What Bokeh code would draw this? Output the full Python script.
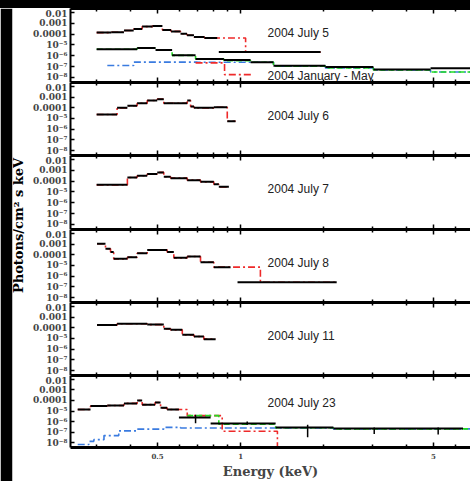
import math
from bokeh.plotting import figure
from bokeh.layouts import row, column
from bokeh.models import Range1d, LogAxis, FixedTicker, CustomJSTickFormatter, Spacer
from bokeh.core.properties import value
from bokeh.embed import file_html
from bokeh.resources import INLINE

# ---------------- data (energy bin edges in keV, flux in photons/cm^2 s keV) -------------
x_ticks = [0.5, 1, 5]
x_tick_labels = ["0.5", "1", "5"]
x_minor_ticks = [0.3, 0.4, 0.6, 0.7, 0.8, 0.9, 2, 3, 4, 6]
y_ticks = [1e-2, 1e-3, 1e-4, 1e-5, 1e-6, 1e-7, 1e-8]
y_tick_labels = ["0.01", "0.001", "0.0001", "10⁻⁵", "10⁻⁶", "10⁻⁷", "10⁻⁸"]

# Panel 1: 2004 July 5 and 2004 January - May
jul5_edges = [0.301, 0.340, 0.378, 0.410, 0.440, 0.480, 0.521, 0.560, 0.606, 0.640, 0.678, 0.740, 0.823]
jul5_flux = [1.4e-4, 1.5e-4, 2.2e-4, 3.0e-4, 5.0e-4, 5.8e-4, 2.4e-4, 1.8e-4, 1.1e-4, 8.0e-5, 5.5e-5, 4.5e-5]
jul5_hi_edges = [0.834, 1.95]
jul5_hi_flux = [2.2e-6]
jul5_model_edges = [0.301, 0.340, 0.378, 0.410, 0.440, 0.480, 0.521, 0.560, 0.606, 0.640, 0.678, 0.740, 1.043, 1.95]
jul5_model_flux = [1.4e-4, 1.5e-4, 2.2e-4, 3.0e-4, 5.0e-4, 5.8e-4, 2.4e-4, 1.8e-4, 1.1e-4, 8.0e-5, 5.5e-5, 4.5e-5, 2.2e-6]

janmay_edges = [0.301, 0.422, 0.492, 0.565, 0.687, 0.870, 1.087, 1.316, 2.03, 3.03, 4.88, 6.9]
janmay_flux = [4.0e-6, 5.2e-6, 3.4e-6, 1.1e-6, 5.2e-7, 4.0e-7, 2.5e-7, 1.2e-7, 9.0e-8, 5.5e-8, 7.0e-8]
janmay_green_flux = [4.0e-6, 5.2e-6, 3.4e-6, 1.1e-6, 5.2e-7, 3.6e-7, 2.5e-7, 1.1e-7, 7.5e-8, 4.8e-8, 3.2e-8]
janmay_red_edges = [0.687, 0.875, 1.09]
janmay_red_flux = [2.2e-7, 1.8e-8]
janmay_blue_edges = [0.329, 0.410, 0.697, 1.316, 2.03, 3.03, 4.88, 6.9]
janmay_blue_flux = [1.25e-7, 2.6e-7, 2.5e-7, 1.1e-7, 7.5e-8, 4.8e-8, 3.2e-8]

# Panel 2: 2004 July 6
jul6_edges = [0.301, 0.357, 0.389, 0.422, 0.459, 0.499, 0.527, 0.573, 0.641, 0.659, 0.678, 0.800, 0.895, 0.959]
jul6_flux = [2.4e-5, 1.0e-4, 1.55e-4, 2.7e-4, 4.9e-4, 6.5e-4, 2.7e-4, 2.7e-4, 4.9e-4, 1.35e-4, 1.0e-4, 1.15e-4, 5.6e-6]

# Panel 3: 2004 July 7
jul7_edges = [0.301, 0.389, 0.422, 0.459, 0.499, 0.527, 0.558, 0.641, 0.716, 0.800, 0.834, 0.907]
jul7_flux = [4.6e-5, 2.2e-4, 3.2e-4, 4.6e-4, 6.5e-4, 2.6e-4, 1.9e-4, 1.25e-4, 8.7e-5, 5.2e-5, 3.0e-5]

# Panel 4: 2004 July 8
jul8_edges = [0.302, 0.324, 0.338, 0.347, 0.389, 0.422, 0.459, 0.542, 0.573, 0.641, 0.716, 0.800, 0.920]
jul8_flux = [1.08e-3, 3.7e-4, 1.8e-4, 4.2e-5, 6.0e-5, 1.4e-4, 2.9e-4, 1.8e-4, 5.2e-5, 7.0e-5, 2.0e-5, 7.0e-6]
jul8_hi_edges = [0.975, 2.23]
jul8_hi_flux = [2.7e-7]
jul8_model_edges = [0.302, 0.324, 0.338, 0.347, 0.389, 0.422, 0.459, 0.542, 0.573, 0.641, 0.716, 0.800, 1.18, 2.23]
jul8_model_flux = [1.08e-3, 3.7e-4, 1.8e-4, 4.2e-5, 6.0e-5, 1.4e-4, 2.9e-4, 1.8e-4, 5.2e-5, 7.0e-5, 2.0e-5, 7.0e-6, 2.7e-7]

# Panel 5: 2004 July 11
jul11_edges = [0.302, 0.357, 0.459, 0.527, 0.558, 0.615, 0.678, 0.736, 0.812]
jul11_flux = [1.8e-4, 2.4e-4, 2.0e-4, 8.0e-5, 6.5e-5, 2.2e-5, 1.55e-5, 8.7e-6]

# Panel 6: 2004 July 23
jul23_edges = [0.257, 0.286, 0.329, 0.378, 0.422, 0.440, 0.490, 0.513, 0.542, 0.598, 0.779, 1.34, 2.17, 6.4]
jul23_flux = [1.4e-5, 3.0e-5, 3.3e-5, 5.3e-5, 1.0e-4, 4.0e-5, 6.5e-5, 2.0e-5, 1.4e-5, 2.4e-6, 6.5e-7, 2.7e-7, 2.2e-7]
jul23_err_x = [0.687, 1.057, 1.75, 3.05, 5.2]
jul23_err_lo = [7.0e-7, 4.9e-7, 3.2e-8, 6.5e-8, 5.7e-8]
jul23_err_hi = [4.3e-6, 1.0e-6, 4.9e-7, 2.7e-7, 2.7e-7]
jul23_model_edges = [0.257, 0.286, 0.329, 0.378, 0.422, 0.440, 0.490, 0.513, 0.542, 0.641, 0.858, 1.36, 1.45]
jul23_model_flux = [1.4e-5, 3.0e-5, 3.3e-5, 5.3e-5, 1.0e-4, 4.0e-5, 6.5e-5, 2.0e-5, 1.4e-5, 3.6e-6, 1.2e-7, 1e-10]
jul23_green_edges = [0.641, 0.834, 1.34, 2.17, 6.9]
jul23_green_flux = [3.6e-6, 5.5e-7, 2.6e-7, 2.0e-7]
jul23_blue_edges = [0.257, 0.282, 0.294, 0.320, 0.362, 0.422, 0.527, 0.606, 1.34, 2.17, 6.9]
jul23_blue_flux = [6.5e-9, 1.3e-8, 1.9e-8, 4.6e-8, 1.3e-7, 1.9e-7, 2.8e-7, 2.4e-7, 2.4e-7, 2.0e-7]

panel_titles = ["2004 July 5", "2004 July 6", "2004 July 7", "2004 July 8", "2004 July 11", "2004 July 23"]
second_title = "2004 January - May"
x_title = "Energy (keV)"
y_title = "Photons/cm² s keV"

# ---------------- styling -------------
RED = "#ee2a2a"
GREEN = "#22dd22"
BLUE = "#3a7be0"
SERIF = "DejaVu Serif"
X_RANGE = (0.242, 6.81)
Y_RANGE = (3.4e-9, 0.0237)
LABEL_X = 1.253
BLACK_BG = {"background-color": "black"}

x_fmt = CustomJSTickFormatter(args=dict(ticks_=x_ticks, labels=x_tick_labels), code="""
for (let i = 0; i < ticks_.length; i++) { if (Math.abs(ticks_[i] - tick) < 1e-9) return labels[i]; }
return "";
""")
blank_fmt = CustomJSTickFormatter(code="return '';")
y_fmt = CustomJSTickFormatter(args=dict(labels=y_tick_labels), code="""
const e = Math.round(-Math.log10(tick)) - 2;
return (e >= 0 && e < labels.length) ? labels[e] : "";
""")


def style_x_axis(ax, show_labels):
    ax.ticker = FixedTicker(ticks=x_ticks, minor_ticks=x_minor_ticks)
    ax.axis_line_color = "black"
    ax.axis_line_width = 3
    ax.major_tick_in = 5
    ax.major_tick_out = 0
    ax.minor_tick_in = 3
    ax.minor_tick_out = 0
    ax.major_tick_line_width = 1.5
    ax.minor_tick_line_width = 1.5
    if show_labels:
        ax.formatter = x_fmt
        ax.major_label_text_font = SERIF
        ax.major_label_text_font_style = "bold"
        ax.major_label_text_font_size = "7px"
        ax.major_label_standoff = 5
        ax.axis_label = x_title
        ax.axis_label_text_font = SERIF
        ax.axis_label_text_font_style = "bold"
        ax.axis_label_text_font_size = "13px"
        ax.axis_label_standoff = 2
    else:
        ax.formatter = blank_fmt
        ax.major_label_text_font_size = "1px"
        ax.major_label_standoff = 0


def make_panel(h, bottom_border=0, show_x_labels=False):
    p = figure(width=440, height=h, x_axis_type="log", y_axis_type="log",
               x_range=Range1d(*X_RANGE), y_range=Range1d(*Y_RANGE),
               output_backend="svg", toolbar_location=None,
               min_border_left=40, min_border_right=0, min_border_top=0,
               min_border_bottom=bottom_border,
               background_fill_color="white", border_fill_color="white",
               outline_line_color=None)
    p.grid.visible = False
    style_x_axis(p.xaxis[0], show_x_labels)
    top = LogAxis()
    style_x_axis(top, False)
    p.add_layout(top, "above")
    ya = p.yaxis[0]
    ya.ticker = FixedTicker(ticks=y_ticks, minor_ticks=[])
    ya.formatter = y_fmt
    ya.axis_line_width = 2
    ya.major_tick_in = 4
    ya.major_tick_out = 0
    ya.major_tick_line_width = 1.5
    ya.minor_tick_line_color = None
    ya.major_label_text_font = SERIF
    ya.major_label_text_font_style = "bold"
    ya.major_label_text_font_size = "9px"
    ya.major_label_standoff = 3
    return p


def data(p, edges, flux, color="black"):
    p.segment(x0=edges[:-1], x1=edges[1:], y0=flux, y1=flux, line_color=color, line_width=2)


def model(p, edges, flux, color=RED, dash="7 3 2 3"):
    p.step(x=edges, y=list(flux) + [flux[-1]], mode="after", line_color=color,
           line_width=1.6, line_dash=dash)


def title(p, y, text):
    p.text(x=[LABEL_X], y=[y], text=[text], text_font=value("Liberation Sans"),
           text_font_size="12px", text_baseline="middle", text_align="left", text_color="#222222")


heights = [74, 73, 74, 73, 73]
panels = []

# Panel 1
p1 = make_panel(heights[0])
model(p1, jul5_model_edges, jul5_model_flux)
data(p1, jul5_edges, jul5_flux)
data(p1, jul5_hi_edges, jul5_hi_flux)
model(p1, janmay_blue_edges, janmay_blue_flux, color=BLUE)
model(p1, janmay_red_edges, janmay_red_flux)
model(p1, janmay_edges, janmay_green_flux, color=GREEN, dash="6 3")
data(p1, janmay_edges, janmay_flux)
title(p1, 1.33e-4, panel_titles[0])
title(p1, 1.35e-8, second_title)
panels.append(p1)

# Panel 2
p2 = make_panel(heights[1])
model(p2, jul6_edges, jul6_flux)
data(p2, jul6_edges, jul6_flux)
title(p2, 1.9e-5, panel_titles[1])
panels.append(p2)

# Panel 3
p3 = make_panel(heights[2])
model(p3, jul7_edges, jul7_flux)
data(p3, jul7_edges, jul7_flux)
title(p3, 1.9e-5, panel_titles[2])
panels.append(p3)

# Panel 4
p4 = make_panel(heights[3])
model(p4, jul8_model_edges, jul8_model_flux)
data(p4, jul8_edges, jul8_flux)
data(p4, jul8_hi_edges, jul8_hi_flux)
title(p4, 1.9e-5, panel_titles[3])
panels.append(p4)

# Panel 5
p5 = make_panel(heights[4])
model(p5, jul11_edges, jul11_flux)
data(p5, jul11_edges, jul11_flux)
title(p5, 1.9e-5, panel_titles[4])
panels.append(p5)

# Panel 6
p6 = make_panel(106, bottom_border=33, show_x_labels=True)
model(p6, jul23_blue_edges, jul23_blue_flux, color=BLUE)
model(p6, jul23_model_edges, jul23_model_flux)
model(p6, jul23_green_edges, jul23_green_flux, color=GREEN, dash="6 3")
data(p6, jul23_edges, jul23_flux)
p6.segment(x0=jul23_err_x, x1=jul23_err_x, y0=jul23_err_lo, y1=jul23_err_hi,
           line_color="black", line_width=1.5)
title(p6, 5.6e-5, panel_titles[5])
panels.append(p6)

# y-axis label strip (with the black left margin as its border)
lab = figure(width=30, height=473, x_range=Range1d(0, 18), y_range=Range1d(0, 473),
             output_backend="svg", toolbar_location=None,
             x_axis_location=None, y_axis_location=None,
             min_border_left=12, min_border_right=0, min_border_top=0, min_border_bottom=0,
             background_fill_color="white", border_fill_color="black", outline_line_color=None)
lab.grid.visible = False
lab.text(x=[5.5], y=[256], text=[y_title], angle=math.pi / 2,
         text_font=value(SERIF), text_font_style="bold", text_font_size="13px",
         text_align="center", text_baseline="middle", text_color="black")

left_col = column(Spacer(width=30, height=8, styles=BLACK_BG), lab, spacing=0)
right_col = column([Spacer(width=440, height=8, styles=BLACK_BG)] + panels, spacing=0)
root = row(left_col, right_col, spacing=0, styles={"background-color": "white"})

open("out.html", "w").write(file_html(root, INLINE))
